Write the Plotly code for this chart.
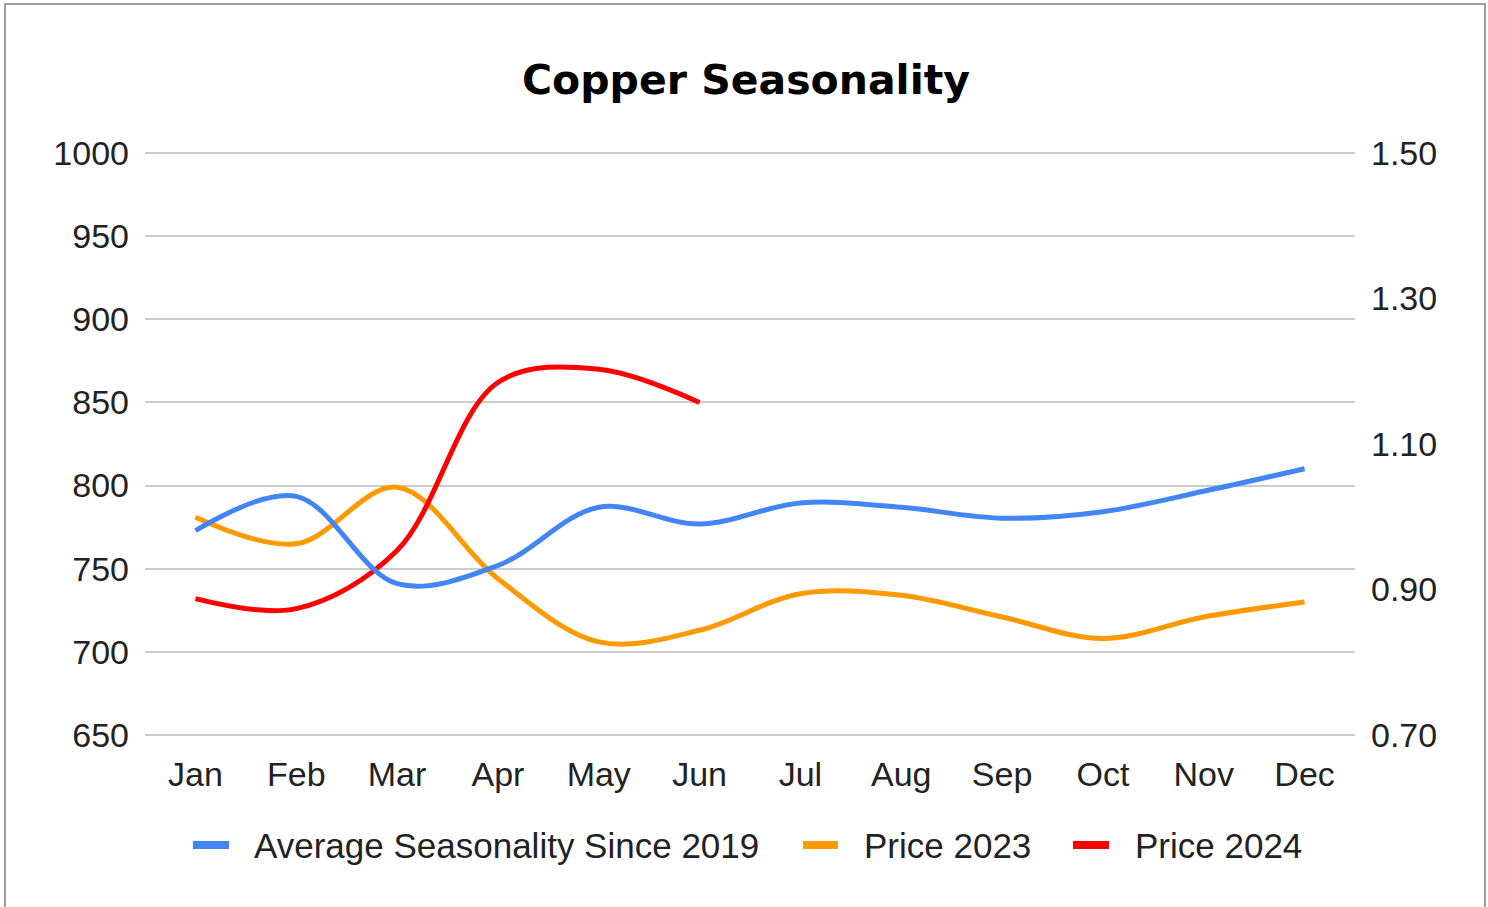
import plotly.graph_objects as go

months = ["Jan", "Feb", "Mar", "Apr", "May", "Jun", "Jul", "Aug", "Sep", "Oct", "Nov", "Dec"]
avg_seasonality = [0.981, 1.028, 0.908, 0.933, 1.013, 0.990, 1.019, 1.013, 0.998, 1.007, 1.035, 1.066]
price_2023 = [781, 765, 799, 744, 706, 713, 735, 734, 721, 708, 721, 730]
price_2024 = [732, 726, 761, 862, 870, 850, None, None, None, None, None, None]

series_names = ["Average Seasonality Since 2019", "Price 2023", "Price 2024"]
series_colors = ["#4285F4", "#FF9900", "#FF0000"]

left_ticks = [650, 700, 750, 800, 850, 900, 950, 1000]
right_ticks = [0.70, 0.90, 1.10, 1.30, 1.50]

W, H = 1488, 907
# pixel rows of the 1000 and 650 gridlines, and plot left/right edges
L, R, Y_TOP, Y_BOT = 145, 1355, 153, 735
K = (Y_BOT - Y_TOP) / 350.0          # pixels per unit on the left axis
PAD = 3                               # padding (units) so the edge gridlines are drawn
T = Y_TOP - PAD * K
B = Y_BOT + PAD * K
y_lo, y_hi = 650 - PAD, 1000 + PAD

def to_right(v):
    return 0.7 + (v - 650) * 0.8 / 350

def px_x(p):
    return (p - L) / (R - L)

def px_y(p):
    return (B - p) / (B - T)

fig = go.Figure()
fig.add_trace(go.Scatter(x=months, y=avg_seasonality, name=series_names[0],
                         mode="lines", line=dict(color=series_colors[0], width=5, shape="spline", smoothing=1),
                         yaxis="y2", showlegend=False))
fig.add_trace(go.Scatter(x=months, y=price_2023, name=series_names[1],
                         mode="lines", line=dict(color=series_colors[1], width=5, shape="spline", smoothing=1),
                         showlegend=False))
fig.add_trace(go.Scatter(x=months, y=price_2024, name=series_names[2],
                         mode="lines", line=dict(color=series_colors[2], width=5, shape="spline", smoothing=1),
                         connectgaps=False, showlegend=False))

tick_font = dict(family="Liberation Sans, Arial, sans-serif", size=34, color="#222222")
legend_font = dict(family="Liberation Sans, Arial, sans-serif", size=35, color="#222222")

shapes = [dict(type="rect", xref="paper", yref="paper",
               x0=px_x(5), x1=px_x(1485), y0=px_y(940), y1=px_y(4),
               line=dict(color="#9e9e9e", width=2), fillcolor="rgba(0,0,0,0)", layer="below")]
annotations = []

# legend (drawn manually to match the reference spacing)
legend_marker_x = [(193, 229), (803, 838), (1073, 1109)]
legend_text_x = [252, 862, 1133]
legend_y = 845
for name, color, (mx0, mx1), tx in zip(series_names, series_colors, legend_marker_x, legend_text_x):
    shapes.append(dict(type="rect", xref="paper", yref="paper",
                       x0=px_x(mx0), x1=px_x(mx1), y0=px_y(legend_y + 4), y1=px_y(legend_y - 4),
                       line=dict(width=0), fillcolor=color))
    annotations.append(dict(text=name, xref="paper", yref="paper", x=px_x(tx), y=px_y(legend_y),
                            xanchor="left", yanchor="middle", showarrow=False, font=legend_font))

fig.update_layout(
    width=W, height=H,
    margin=dict(l=L, r=W - R, t=T, b=H - B, pad=0),
    paper_bgcolor="white", plot_bgcolor="white",
    title=dict(text="<b>Copper Seasonality</b>", x=746 / W, xanchor="center", xref="container",
               y=1 - 80 / H, yanchor="middle", yref="container",
               font=dict(family="DejaVu Sans, Verdana, sans-serif", size=41, color="#000000")),
    xaxis=dict(type="category", range=[-0.5, 11.5], showgrid=False, zeroline=False, showline=False,
               ticks="", tickfont=tick_font, ticklabelstandoff=int(round(16 - PAD * K))),
    yaxis=dict(range=[y_lo, y_hi], tickvals=left_ticks, showgrid=True, gridcolor="#cccccc", gridwidth=2,
               zeroline=False, showline=False, ticks="", tickfont=tick_font, ticklabelstandoff=15),
    yaxis2=dict(range=[to_right(y_lo), to_right(y_hi)], tickvals=right_ticks, tickformat=".2f",
                overlaying="y", side="right",
                showgrid=False, zeroline=False, showline=False, ticks="", tickfont=tick_font,
                ticklabelstandoff=15),
    showlegend=False,
    shapes=shapes,
    annotations=annotations,
)

fig.write_html("out.html", config={"displayModeBar": False},
               post_script="document.body.style.margin='0';document.body.style.overflow='hidden';")
